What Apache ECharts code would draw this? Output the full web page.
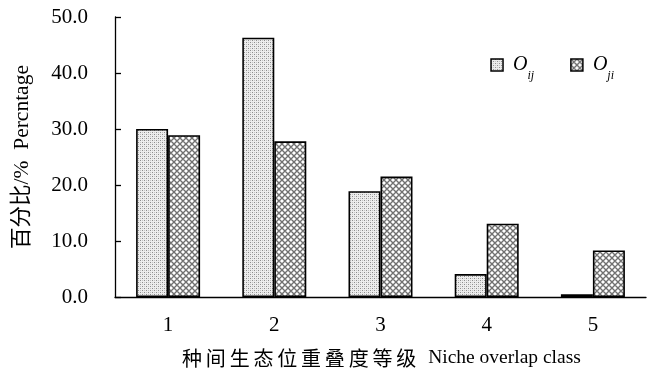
<!DOCTYPE html>
<html><head><meta charset="utf-8">
<script src="https://cdn.jsdelivr.net/npm/echarts@6/dist/echarts.min.js"></script>
<style>html,body{margin:0;padding:0;background:#fff}#c{width:669px;height:371px}</style>
</head><body><div id="c"></div>
<script>
const categories = ['1', '2', '3', '4', '5'];
const seriesNames = ['Oij', 'Oji'];
const oijValues = [30.0, 46.3, 18.9, 4.1, 0.5];
const ojiValues = [28.9, 27.8, 21.5, 13.1, 8.3];
const yTicks = { min: 0, max: 50, interval: 10 };
const xTitleZh = '种间生态位重叠度等级';
const xTitleEn = 'Niche overlap class';
const yTitle = '百分比/%  Percntage';

function dotPattern() {
  const c = document.createElement('canvas'); c.width = 4; c.height = 4;
  const g = c.getContext('2d');
  g.fillStyle = '#ededed'; g.fillRect(0, 0, 4, 4);
  g.fillStyle = '#8c8c8c';
  g.fillRect(0, 0, 1, 1); g.fillRect(2, 2, 1, 1);
  g.fillStyle = '#c4c4c4';
  g.fillRect(2, 0, 1, 1); g.fillRect(0, 2, 1, 1);
  return c;
}
function crossPattern() {
  const s = 6;
  const c = document.createElement('canvas'); c.width = s; c.height = s;
  const g = c.getContext('2d');
  g.fillStyle = '#ffffff'; g.fillRect(0, 0, s, s);
  g.strokeStyle = '#707070'; g.lineWidth = 1.4;
  g.beginPath();
  g.moveTo(-1, -1); g.lineTo(s + 1, s + 1);
  g.moveTo(s + 1, -1); g.lineTo(-1, s + 1);
  g.moveTo(-2, s - 2); g.lineTo(2, s + 2);
  g.moveTo(s - 2, -2); g.lineTo(s + 2, 2);
  g.moveTo(-2, 2); g.lineTo(2, -2);
  g.moveTo(s - 2, s + 2); g.lineTo(s + 2, s - 2);
  g.stroke();
  return c;
}

const chart = echarts.init(document.getElementById('c'));
const serif = '"Liberation Serif", "Times New Roman", serif';
const cjk = '"Noto Sans CJK SC", sans-serif';
const mixed = '"Liberation Serif", "Noto Sans CJK SC", serif';
const legendRich = {
  o: { fontFamily: serif, fontStyle: 'italic', fontSize: 20, color: '#000', lineHeight: 22, padding: [0, 0, 0, 5] },
  s: { fontFamily: serif, fontStyle: 'italic', fontSize: 12, color: '#000', verticalAlign: 'bottom', lineHeight: 12, padding: [0, 0, -6, 0] }
};
const xNameRich = {
  c: { fontFamily: cjk, fontSize: 20, color: '#000', lineHeight: 22, padding: [0, 1.9, 0, 1.9] },
  e: { fontFamily: serif, fontSize: 19.5, color: '#000', lineHeight: 22, padding: [0, 0, 0, 10] }
};
const xNameText = xTitleZh.split('').map(ch => '{c|' + ch + '}').join('') + '{e|' + xTitleEn + '}';

chart.setOption({
  animation: false,
  backgroundColor: '#fff',
  grid: { left: 115, right: 23, top: 17, bottom: 74, outerBoundsMode: 'none', containLabel: false },
  legend: {
    right: 50, top: 50,
    icon: 'rect',
    itemWidth: 12, itemHeight: 12, itemGap: 36,
    data: seriesNames,
    itemStyle: { borderColor: '#000', borderWidth: 1.5 },
    formatter: function (n) { return '{o|O}{s|' + n.slice(1) + '}'; },
    textStyle: { rich: legendRich }
  },
  xAxis: {
    type: 'category', data: categories,
    name: xNameText,
    nameLocation: 'middle', nameGap: 50,
    nameTextStyle: { rich: xNameRich },
    axisLine: { lineStyle: { color: '#000', width: 1.3 } },
    axisTick: { inside: true, length: 6, lineStyle: { color: '#000', width: 1.3 } },
    axisLabel: { fontFamily: serif, fontSize: 21, color: '#000', margin: 18 }
  },
  yAxis: {
    type: 'value', min: yTicks.min, max: yTicks.max, interval: yTicks.interval,
    name: yTitle, nameLocation: 'middle', nameGap: 82,
    nameTextStyle: { fontFamily: mixed, fontSize: 21.5, color: '#000' },
    axisLine: { show: true, lineStyle: { color: '#000', width: 1.3 } },
    axisTick: { show: true, inside: true, length: 6, lineStyle: { color: '#000', width: 1.3 } },
    splitLine: { show: false },
    axisLabel: { fontFamily: serif, fontSize: 21, color: '#000', margin: 27, formatter: v => v.toFixed(1) }
  },
  series: [
    { name: seriesNames[0], type: 'bar', data: oijValues, barWidth: 32, barGap: '0%',
      itemStyle: { color: { image: dotPattern(), repeat: 'repeat' }, borderColor: '#000', borderWidth: 1.6 } },
    { name: seriesNames[1], type: 'bar', data: ojiValues, barWidth: 32, barGap: '0%',
      itemStyle: { color: { image: crossPattern(), repeat: 'repeat' }, borderColor: '#000', borderWidth: 1.6 } }
  ]
});
</script></body></html>
